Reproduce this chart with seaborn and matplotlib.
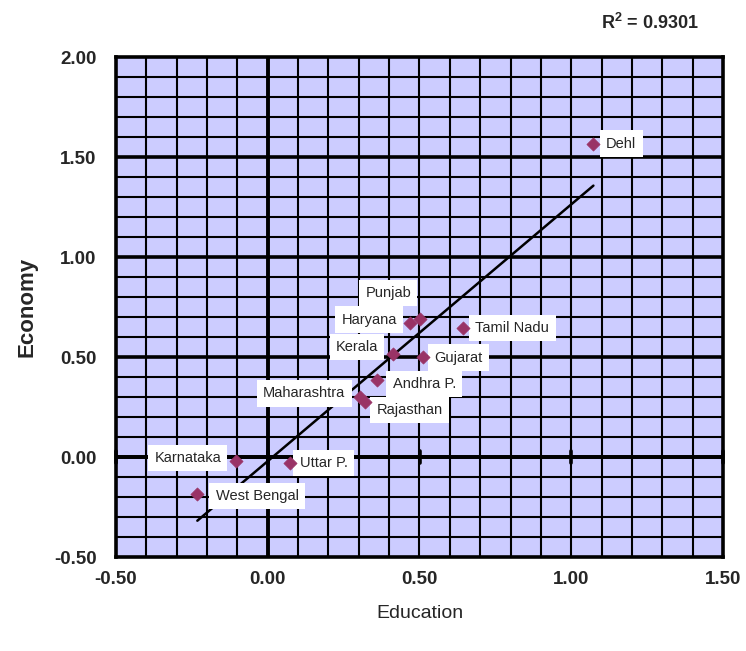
import numpy as np
import pandas as pd
import matplotlib
matplotlib.use("Agg")
import matplotlib.pyplot as plt
import seaborn as sns

states = ["Punjab", "Haryana", "Tamil Nadu", "Kerala", "Gujarat", "Andhra P.",
          "Maharashtra", "Rajasthan", "Karnataka", "Uttar P.", "West Bengal", "Delhi"]
education = [0.502, 0.469, 0.642, 0.413, 0.510, 0.360, 0.305, 0.320, -0.106, 0.073, -0.232, 1.073]
economy = [0.690, 0.671, 0.646, 0.513, 0.500, 0.384, 0.300, 0.273, -0.020, -0.030, -0.185, 1.567]
label_x = [0.397, 0.334, 0.806, 0.294, 0.628, 0.516, 0.120, 0.468, -0.264, 0.184, -0.035, 1.165]
label_y = [0.820, 0.687, 0.646, 0.550, 0.497, 0.364, 0.318, 0.235, -0.005, -0.030, -0.195, 1.567]
label_text = ["Punjab", "Haryana", "Tamil Nadu", "Kerala", "Gujarat", "Andhra P.",
              "Maharashtra", "Rajasthan", "Karnataka", "Uttar P.", "West Bengal", "Dehl"]
x_ticks = [-0.5, 0.0, 0.5, 1.0, 1.5]
y_ticks = [-0.5, 0.0, 0.5, 1.0, 1.5, 2.0]
r2_text = "R$^2$ = 0.9301"

df = pd.DataFrame({"state": states, "Education": education, "Economy": economy})

sns.set_theme(style="white")
fam = ["Liberation Sans", "DejaVu Sans"]
plt.rcParams["font.family"] = fam
plt.rcParams["mathtext.fontset"] = "custom"
plt.rcParams["mathtext.rm"] = "Liberation Sans:bold"
plt.rcParams["mathtext.bf"] = "Liberation Sans:bold"

fig = plt.figure(figsize=(7.46, 6.51), dpi=100)
ax = fig.add_axes([116/746, 1-557/651, (723-116)/746, (557-57)/651])
ax.set_facecolor("#CCCCFF")

ax.set_xlim(-0.5, 1.5)
ax.set_ylim(-0.5, 2.0)

# grid
for gx in np.arange(-0.4, 1.5, 0.1):
    ax.axvline(gx, color="black", lw=1.5, zorder=1)
for gy in np.arange(-0.4, 2.0, 0.1):
    major = abs(round(gy * 10) % 5) == 0
    ax.axhline(gy, color="black", lw=2.6 if major else 1.5, zorder=1)
ax.axvline(0, color="black", lw=2.8, zorder=1)
ax.axhline(0, color="black", lw=2.8, zorder=1)
# tick marks on the y=0 axis line
for tx in x_ticks:
    ax.plot([tx, tx], [-0.03, 0.03], color="black", lw=2.6, zorder=1, clip_on=False)

sns.regplot(data=df, x="Education", y="Economy", scatter=False, ci=None, truncate=True,
            color="black", line_kws={"lw": 1.8, "zorder": 3}, ax=ax)
sns.scatterplot(data=df, x="Education", y="Economy", marker="D", color="#993366",
                s=45, edgecolor="#993366", linewidth=0.5, zorder=6, ax=ax)

for t, lx, ly in zip(label_text, label_x, label_y):
    ax.text(lx, ly, t, ha="center", va="center", fontsize=10.5, family=fam, zorder=5,
            bbox=dict(facecolor="white", edgecolor="none", pad=4.5))

for s in ax.spines.values():
    s.set_visible(True)
    s.set_color("black")
    s.set_linewidth(2.6)

ax.set_xticks(x_ticks)
ax.set_yticks(y_ticks)
ax.set_xticklabels([f"{v:.2f}" for v in x_ticks], fontsize=13.5, fontweight="bold")
ax.set_yticklabels([f"{v:.2f}" for v in y_ticks], fontsize=13.5, fontweight="bold")
ax.tick_params(axis="x", length=0, pad=10)
ax.tick_params(axis="y", length=0, pad=14)
ax.set_xlabel("Education", fontsize=14, labelpad=12)
ax.set_ylabel("Economy", fontsize=16, fontweight="bold", labelpad=12)

fig.text(650/746, 1-23/651, r2_text, ha="center", va="center", fontsize=13, fontweight="bold")

fig.savefig("out.png", dpi=100)
